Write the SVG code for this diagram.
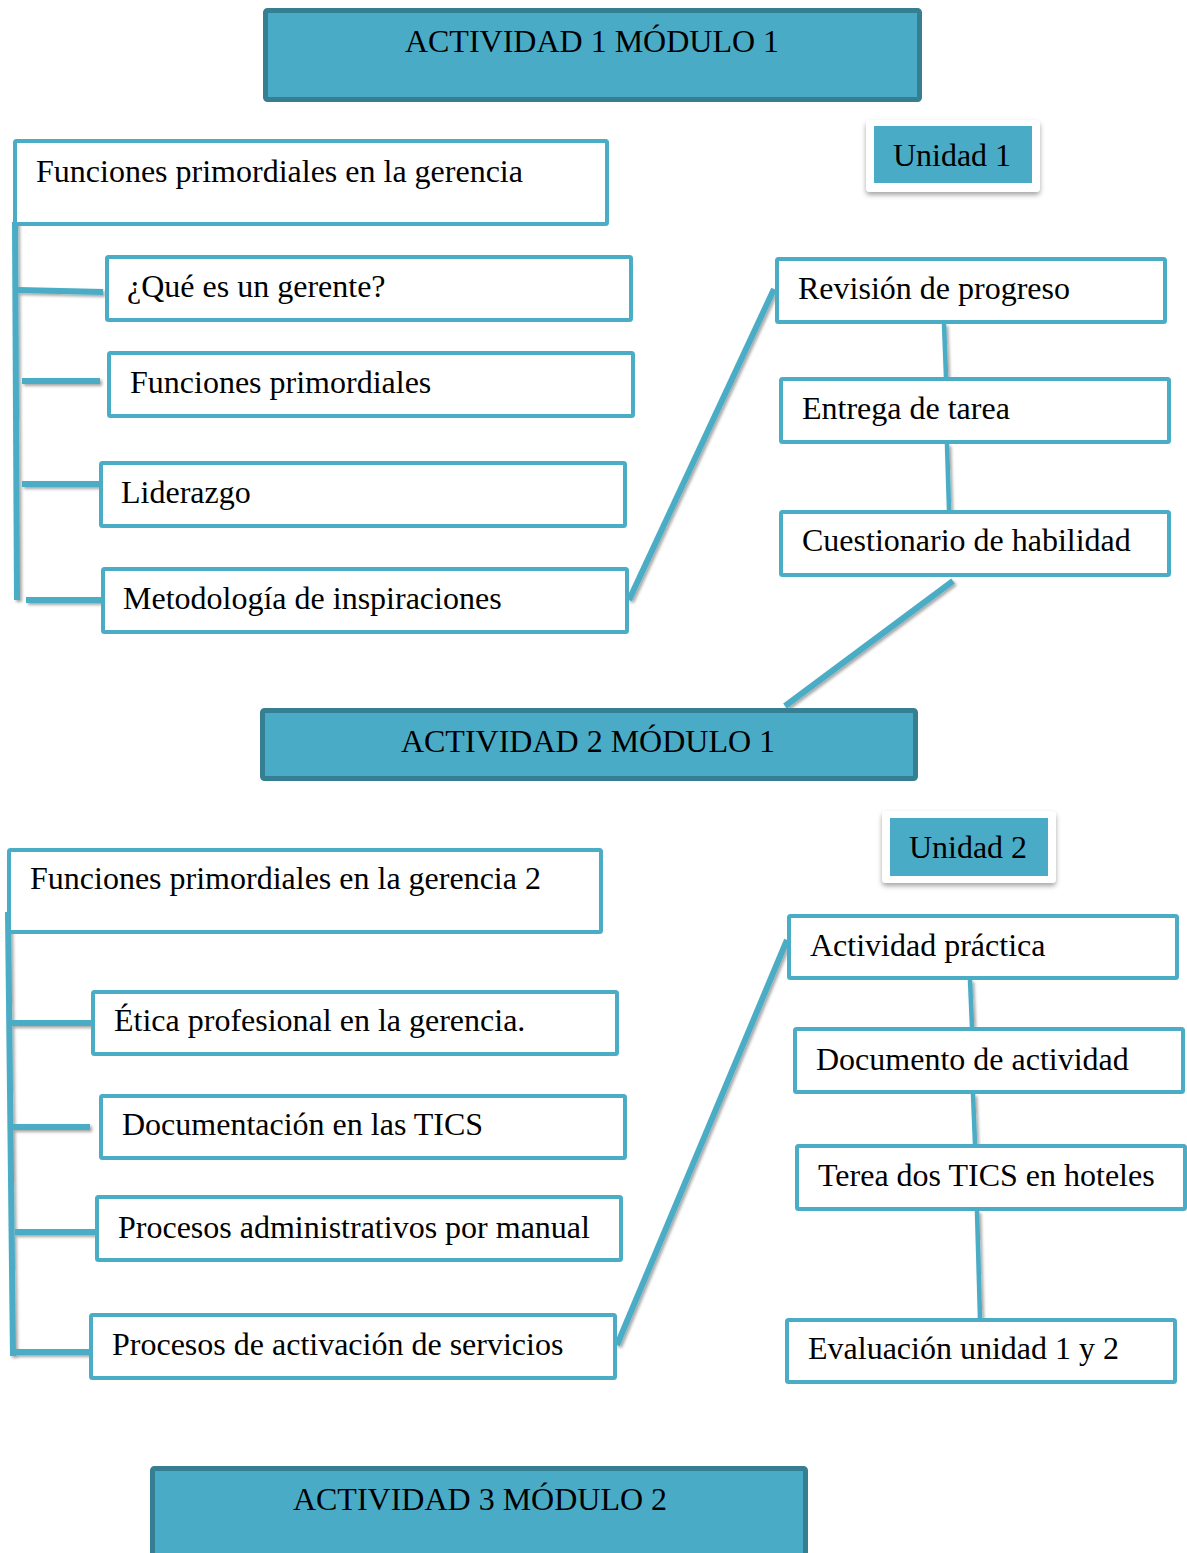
<svg xmlns="http://www.w3.org/2000/svg" width="1187" height="1553" viewBox="0 0 1187 1553">
  <defs>
    <filter id="lineShadow" x="-20%" y="-20%" width="140%" height="140%">
      <feDropShadow dx="2" dy="2" stdDeviation="1.5" flood-color="#000" flood-opacity="0.35"/>
    </filter>
    <filter id="cardShadow" x="-20%" y="-30%" width="140%" height="170%">
      <feDropShadow dx="0" dy="3" stdDeviation="2.5" flood-color="#000" flood-opacity="0.35"/>
    </filter>
  </defs>
  <style>
    .box { fill: #ffffff; stroke: #4bacc6; stroke-width: 4; }
    .head { fill: #4aabc6; stroke: #367e92; stroke-width: 5; }
    .card { fill: #ffffff; }
    .tab { fill: #4aabc6; }
    .lbl { font-family: "Liberation Serif", "Times New Roman", serif; font-size: 32px; fill: #000; }
    .mid { text-anchor: middle; }
    .conn { stroke: #4bacc6; stroke-width: 6; fill: none; stroke-linecap: butt; }
    .thin { stroke-width: 4.5; }
  </style>
  <rect width="1187" height="1553" fill="#ffffff"/>

  <!-- connectors -->
  <g id="connectors" filter="url(#lineShadow)">
    <!-- block 1 spine and branches -->
    <line class="conn" x1="15" y1="222" x2="17" y2="600"/>
    <line class="conn" x1="18" y1="290" x2="103" y2="292"/>
    <line class="conn" x1="22" y1="381" x2="100" y2="381"/>
    <line class="conn" x1="22" y1="484" x2="99" y2="484"/>
    <line class="conn" x1="26" y1="600" x2="101" y2="600"/>
    <!-- block 1 to task column -->
    <line class="conn" x1="629" y1="600" x2="774" y2="289"/>
    <line class="conn thin" x1="944" y1="324" x2="946" y2="377"/>
    <line class="conn thin" x1="947" y1="444" x2="949" y2="510"/>
    <line class="conn" x1="953" y1="581" x2="785" y2="706"/>
    <!-- block 2 spine and branches -->
    <line class="conn" x1="8" y1="912" x2="13" y2="1356"/>
    <line class="conn" x1="12" y1="1023" x2="91" y2="1023"/>
    <line class="conn" x1="12" y1="1127" x2="90" y2="1127"/>
    <line class="conn" x1="15" y1="1232" x2="95" y2="1232"/>
    <line class="conn" x1="14" y1="1352" x2="93" y2="1352"/>
    <!-- block 2 to task column -->
    <line class="conn" x1="617" y1="1345" x2="787" y2="940"/>
    <line class="conn thin" x1="970" y1="980" x2="972" y2="1027"/>
    <line class="conn thin" x1="973" y1="1094" x2="975" y2="1144"/>
    <line class="conn thin" x1="977" y1="1211" x2="980" y2="1318"/>
  </g>

  <!-- headers -->
  <g id="act1">
    <rect class="head" x="265.5" y="10.5" width="654" height="89" rx="2"/>
    <text class="lbl mid" x="592" y="52">ACTIVIDAD 1 MÓDULO 1</text>
  </g>
  <g id="act2">
    <rect class="head" x="262.5" y="710.5" width="653" height="68" rx="2"/>
    <text class="lbl mid" x="588" y="752">ACTIVIDAD 2 MÓDULO 1</text>
  </g>
  <g id="act3">
    <rect class="head" x="152.5" y="1468.5" width="653" height="100" rx="2"/>
    <text class="lbl mid" x="480" y="1510">ACTIVIDAD 3 MÓDULO 2</text>
  </g>

  <!-- unit tags -->
  <g id="unidad1">
    <rect class="card" x="866" y="120" width="174" height="72" rx="4" filter="url(#cardShadow)"/>
    <rect class="tab" x="874" y="126" width="158" height="57"/>
    <text class="lbl mid" x="952" y="166">Unidad 1</text>
  </g>
  <g id="unidad2">
    <rect class="card" x="882" y="811" width="174" height="72" rx="4" filter="url(#cardShadow)"/>
    <rect class="tab" x="890" y="818" width="158" height="58"/>
    <text class="lbl mid" x="968" y="858">Unidad 2</text>
  </g>

  <!-- block 1 topics -->
  <g id="funciones1">
    <rect class="box" x="15" y="141" width="592" height="83" rx="1.5"/>
    <text class="lbl" x="36" y="182">Funciones primordiales en la gerencia</text>
  </g>
  <g id="gerente">
    <rect class="box" x="107" y="257" width="524" height="63" rx="1.5"/>
    <text class="lbl" x="127" y="297">¿Qué es un gerente?</text>
  </g>
  <g id="funcionesPrim">
    <rect class="box" x="109" y="353" width="524" height="63" rx="1.5"/>
    <text class="lbl" x="130" y="393">Funciones primordiales</text>
  </g>
  <g id="liderazgo">
    <rect class="box" x="101" y="463" width="524" height="63" rx="1.5"/>
    <text class="lbl" x="121" y="503">Liderazgo</text>
  </g>
  <g id="metodologia">
    <rect class="box" x="103" y="569" width="524" height="63" rx="1.5"/>
    <text class="lbl" x="123" y="609">Metodología de inspiraciones</text>
  </g>

  <!-- block 1 tasks -->
  <g id="revision">
    <rect class="box" x="777" y="259" width="388" height="63" rx="1.5"/>
    <text class="lbl" x="798" y="299">Revisión de progreso</text>
  </g>
  <g id="entrega">
    <rect class="box" x="781" y="379" width="388" height="63" rx="1.5"/>
    <text class="lbl" x="802" y="419">Entrega de tarea</text>
  </g>
  <g id="cuestionario">
    <rect class="box" x="781" y="512" width="388" height="63" rx="1.5"/>
    <text class="lbl" x="802" y="551">Cuestionario de habilidad</text>
  </g>

  <!-- block 2 topics -->
  <g id="funciones2">
    <rect class="box" x="9" y="850" width="592" height="82" rx="1.5"/>
    <text class="lbl" x="30" y="889">Funciones primordiales en la gerencia 2</text>
  </g>
  <g id="etica">
    <rect class="box" x="93" y="992" width="524" height="62" rx="1.5"/>
    <text class="lbl" x="114" y="1031">Ética profesional en la gerencia.</text>
  </g>
  <g id="documentacion">
    <rect class="box" x="101" y="1096" width="524" height="62" rx="1.5"/>
    <text class="lbl" x="122" y="1135">Documentación en las TICS</text>
  </g>
  <g id="procAdmin">
    <rect class="box" x="97" y="1197" width="524" height="63" rx="1.5"/>
    <text class="lbl" x="118" y="1238">Procesos administrativos por manual</text>
  </g>
  <g id="procActiv">
    <rect class="box" x="91" y="1315" width="524" height="63" rx="1.5"/>
    <text class="lbl" x="112" y="1355">Procesos de activación de servicios</text>
  </g>

  <!-- block 2 tasks -->
  <g id="practica">
    <rect class="box" x="789" y="916" width="388" height="62" rx="1.5"/>
    <text class="lbl" x="810" y="956">Actividad práctica</text>
  </g>
  <g id="documento">
    <rect class="box" x="795" y="1029" width="388" height="63" rx="1.5"/>
    <text class="lbl" x="816" y="1070">Documento de actividad</text>
  </g>
  <g id="terea">
    <rect class="box" x="797" y="1146" width="388" height="63" rx="1.5"/>
    <text class="lbl" x="818" y="1186">Terea dos TICS en hoteles</text>
  </g>
  <g id="evaluacion">
    <rect class="box" x="787" y="1320" width="388" height="62" rx="1.5"/>
    <text class="lbl" x="808" y="1359">Evaluación unidad 1 y 2</text>
  </g>
</svg>
